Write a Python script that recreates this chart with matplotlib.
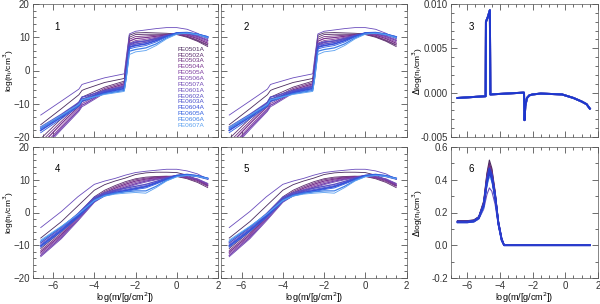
import numpy as np
import matplotlib
matplotlib.use("Agg")
import matplotlib.pyplot as plt
from matplotlib.ticker import MultipleLocator, FormatStrFormatter

plt.rcParams['font.family'] = ['Liberation Sans', 'DejaVu Sans']
plt.rcParams['axes.unicode_minus'] = True

# --- series names and colours ---
names = ['FE0501A', 'FE0502A', 'FE0503A', 'FE0504A', 'FE0505A', 'FE0506A', 'FE0507A',
         'FE0601A', 'FE0602A', 'FE0603A', 'FE0604A', 'FE0605A', 'FE0606A', 'FE0607A']
colors = ['#4a2a5e', '#5c2d6e', '#6e2f80', '#7a3390', '#7d3a9e', '#7a42ac', '#7048b4',
          '#6a4cbc', '#5a50c4', '#4a50cc', '#3a50d8', '#2e5ee0', '#4080e8', '#5aa0f0']

# --- panels 1 & 2: log n_i vs log m (with jump) ---
x_top = [-6.6, -5.6, -4.75, -4.6, -4.45, -3.5, -2.55, -2.45, -2.3, -2.0, -1.5, -1.0, -0.5, 0.0, 0.5, 1.0, 1.5]
top_s0 = [-16.3, -11.5, -7.3, -6.0, -5.6, -3.6, -2.4, 3.0, 10.6, 11.3, 11.4, 11.3, 11.2, 11.0, 10.2, 9.0, 7.6]
top_s1 = [-20.5, -14.5, -9.5, -8.0, -7.6, -5.0, -3.2, 2.0, 10.0, 10.8, 10.9, 10.9, 10.9, 10.8, 10.0, 8.8, 7.2]
top_s2 = [-21.5, -15.3, -10.2, -8.7, -8.3, -5.4, -3.6, 1.5, 9.4, 10.2, 10.4, 10.6, 10.8, 10.9, 10.3, 9.2, 7.8]
top_s3 = [-22.5, -16.0, -10.8, -9.3, -8.9, -5.8, -4.0, 1.0, 8.8, 9.6, 9.9, 10.3, 10.7, 11.0, 10.6, 9.6, 8.2]
top_s4 = [-23.5, -16.8, -11.4, -9.9, -9.5, -6.2, -4.3, 0.5, 8.2, 9.0, 9.4, 10.0, 10.6, 11.1, 10.8, 9.9, 8.6]
top_s5 = [-24.0, -17.3, -11.9, -10.4, -10.0, -6.5, -4.6, 0.0, 7.6, 8.4, 8.9, 9.7, 10.5, 11.2, 11.0, 10.2, 9.0]
top_s6 = [-24.5, -17.8, -12.3, -10.9, -10.4, -6.8, -4.9, -0.5, 7.0, 7.9, 8.5, 9.4, 10.4, 11.2, 11.1, 10.4, 9.3]
top_s7 = [-13.4, -9.2, -5.6, -4.2, -3.9, -2.2, -1.0, 4.0, 11.0, 11.8, 12.2, 12.6, 12.9, 12.9, 12.4, 11.2, 9.6]
top_s8 = [-17.0, -13.2, -9.6, -8.0, -7.8, -6.0, -4.8, 0.0, 8.0, 8.6, 8.9, 9.6, 10.5, 11.2, 11.2, 10.7, 9.8]
top_s9 = [-17.5, -13.6, -10.0, -8.5, -8.3, -6.3, -5.1, -0.5, 7.5, 8.0, 8.4, 9.3, 10.4, 11.2, 11.3, 10.8, 10.0]
top_s10 = [-18.0, -14.0, -10.4, -8.9, -8.7, -6.6, -5.4, -1.0, 7.0, 7.5, 8.0, 9.0, 10.3, 11.3, 11.4, 10.9, 10.1]
top_s11 = [-18.7, -14.5, -10.8, -9.3, -9.1, -6.9, -5.7, -1.5, 6.5, 7.0, 7.5, 8.6, 10.1, 11.3, 11.4, 11.0, 10.2]
top_s12 = [-17.5, -13.7, -10.3, -8.8, -8.6, -7.0, -6.0, -2.0, 5.8, 6.3, 6.8, 8.0, 9.8, 11.1, 11.3, 10.9, 10.0]
top_s13 = [-17.0, -13.4, -10.2, -8.8, -8.6, -7.2, -6.3, -2.5, 4.8, 5.6, 6.0, 7.5, 9.5, 10.9, 11.2, 10.8, 9.8]
top_series = [top_s0, top_s1, top_s2, top_s3, top_s4, top_s5, top_s6,
              top_s7, top_s8, top_s9, top_s10, top_s11, top_s12, top_s13]

# --- panel 3: difference ---
x_d3 = [-6.6, -4.88, -4.86, -4.75, -4.62, -4.59, -2.6, -2.53, -2.5, -2.45, -2.35, -2.2, -2.0, -1.5, -0.2, 0.5, 1.0, 1.3, 1.5]
y_d3 = [-0.0006, -0.0004, 0.0080, 0.0085, 0.0093, -0.0002, 0.0, 0.0, -0.0031, -0.0015, -0.0006, -0.0003, -0.0002, -0.0001, -0.0002, -0.0006, -0.0010, -0.0013, -0.0018]

# --- panels 4 & 5: log n_i vs log m (smooth) ---
x_bot = [-6.6, -5.6, -4.8, -4.0, -3.5, -3.0, -2.5, -2.0, -1.5, -1.0, -0.5, 0.0, 0.5, 1.0, 1.5]
bot_s0 = [-7.8, -2.8, 2.0, 6.8, 8.5, 9.6, 10.5, 11.6, 12.1, 12.3, 12.3, 12.2, 11.4, 10.0, 8.2]
bot_s1 = [-11.0, -5.8, -0.5, 4.8, 6.8, 8.2, 9.4, 10.3, 10.8, 11.0, 11.1, 11.0, 10.3, 9.2, 7.6]
bot_s2 = [-11.6, -6.3, -1.0, 4.4, 6.4, 7.8, 9.0, 10.0, 10.5, 10.8, 11.0, 11.1, 10.5, 9.5, 8.0]
bot_s3 = [-12.1, -6.8, -1.4, 4.0, 6.0, 7.4, 8.6, 9.6, 10.2, 10.6, 10.9, 11.1, 10.7, 9.8, 8.3]
bot_s4 = [-12.6, -7.2, -1.8, 3.7, 5.7, 7.0, 8.2, 9.2, 9.9, 10.4, 10.8, 11.2, 10.8, 10.0, 8.5]
bot_s5 = [-13.1, -7.6, -2.2, 3.4, 5.4, 6.7, 7.8, 8.8, 9.6, 10.2, 10.7, 11.2, 10.9, 10.1, 8.7]
bot_s6 = [-13.5, -8.0, -2.6, 3.1, 5.1, 6.4, 7.5, 8.5, 9.3, 10.0, 10.6, 11.2, 11.0, 10.3, 8.9]
bot_s7 = [-4.6, 0.3, 4.8, 8.6, 9.6, 10.4, 11.4, 12.2, 12.6, 12.9, 13.2, 13.2, 12.7, 11.8, 10.2]
bot_s8 = [-9.3, -4.6, -0.4, 4.6, 6.0, 6.8, 7.4, 8.0, 8.6, 9.5, 10.5, 11.3, 11.4, 11.0, 10.2]
bot_s9 = [-9.8, -5.0, -0.8, 4.2, 5.6, 6.4, 7.0, 7.6, 8.2, 9.2, 10.3, 11.3, 11.5, 11.1, 10.3]
bot_s10 = [-10.2, -5.4, -1.2, 3.8, 5.3, 6.1, 6.7, 7.3, 7.9, 9.0, 10.2, 11.3, 11.6, 11.2, 10.4]
bot_s11 = [-10.6, -5.8, -1.6, 3.4, 5.0, 5.8, 6.4, 7.0, 7.5, 8.7, 10.0, 11.3, 11.6, 11.3, 10.5]
bot_s12 = [-8.8, -4.4, -0.6, 3.8, 5.2, 5.9, 6.3, 6.6, 6.6, 8.0, 9.8, 11.0, 11.4, 11.1, 10.4]
bot_s13 = [-8.4, -4.2, -0.6, 3.6, 5.0, 5.6, 5.9, 6.1, 5.9, 7.6, 9.6, 10.9, 11.3, 11.0, 10.3]
bot_series = [bot_s0, bot_s1, bot_s2, bot_s3, bot_s4, bot_s5, bot_s6,
              bot_s7, bot_s8, bot_s9, bot_s10, bot_s11, bot_s12, bot_s13]

# --- panel 6: difference ---
x_d6 = [-6.6, -6.0, -5.6, -5.3, -5.0, -4.8, -4.65, -4.5, -4.3, -4.1, -3.9, -3.75, -2.4, 1.5]
d6_s0 = [0.150, 0.150, 0.155, 0.175, 0.27, 0.44, 0.52, 0.47, 0.33, 0.15, 0.04, 0.0, 0.0, 0.0]
d6_s1 = [0.148, 0.148, 0.153, 0.173, 0.26, 0.43, 0.50, 0.46, 0.32, 0.15, 0.04, 0.0, 0.0, 0.0]
d6_s2 = [0.146, 0.146, 0.151, 0.171, 0.26, 0.42, 0.49, 0.45, 0.32, 0.14, 0.04, 0.0, 0.0, 0.0]
d6_s3 = [0.145, 0.145, 0.150, 0.170, 0.25, 0.41, 0.48, 0.44, 0.31, 0.14, 0.04, 0.0, 0.0, 0.0]
d6_s4 = [0.143, 0.143, 0.148, 0.168, 0.25, 0.40, 0.47, 0.43, 0.31, 0.14, 0.04, 0.0, 0.0, 0.0]
d6_s5 = [0.142, 0.142, 0.147, 0.167, 0.24, 0.39, 0.46, 0.42, 0.30, 0.14, 0.04, 0.0, 0.0, 0.0]
d6_s6 = [0.140, 0.140, 0.145, 0.165, 0.24, 0.38, 0.45, 0.41, 0.30, 0.13, 0.03, 0.0, 0.0, 0.0]
d6_s7 = [0.138, 0.138, 0.142, 0.160, 0.22, 0.31, 0.35, 0.33, 0.25, 0.12, 0.03, 0.0, 0.0, 0.0]
d6_s8 = [0.145, 0.145, 0.150, 0.170, 0.25, 0.40, 0.47, 0.43, 0.31, 0.14, 0.04, 0.0, 0.0, 0.0]
d6_s9 = [0.143, 0.143, 0.148, 0.168, 0.25, 0.39, 0.46, 0.42, 0.30, 0.14, 0.04, 0.0, 0.0, 0.0]
d6_s10 = [0.142, 0.142, 0.147, 0.167, 0.24, 0.39, 0.45, 0.41, 0.30, 0.13, 0.03, 0.0, 0.0, 0.0]
d6_s11 = [0.140, 0.140, 0.145, 0.165, 0.24, 0.38, 0.44, 0.41, 0.29, 0.13, 0.03, 0.0, 0.0, 0.0]
d6_s12 = [0.139, 0.139, 0.144, 0.163, 0.23, 0.37, 0.43, 0.40, 0.29, 0.13, 0.03, 0.0, 0.0, 0.0]
d6_s13 = [0.138, 0.138, 0.143, 0.162, 0.23, 0.36, 0.42, 0.39, 0.28, 0.13, 0.03, 0.0, 0.0, 0.0]
d6_series = [d6_s0, d6_s1, d6_s2, d6_s3, d6_s4, d6_s5, d6_s6,
             d6_s7, d6_s8, d6_s9, d6_s10, d6_s11, d6_s12, d6_s13]

ylab = r'log(n$_{\rm i}$/cm$^{3}$)'
dylab = r'$\Delta$log(n$_{\rm i}$/cm$^{3}$)'
xlab = r'log(m/[g/cm$^{2}$])'

fig = plt.figure(figsize=(6.0, 3.04), dpi=100)
W, H = 600.0, 304.0

def add_ax(x0, x1, y0, y1):
    return fig.add_axes([x0 / W, 1 - y1 / H, (x1 - x0) / W, (y1 - y0) / H])

cols = [(32.5, 218), (221, 406.5), (451, 598)]
rows = [(4, 137), (147, 278)]

def style(ax, ymaj, ymin, xlabels, ylabels):
    ax.set_xlim(-7, 2)
    ax.xaxis.set_major_locator(MultipleLocator(2))
    ax.xaxis.set_minor_locator(MultipleLocator(0.5))
    ax.yaxis.set_major_locator(MultipleLocator(ymaj))
    ax.yaxis.set_minor_locator(MultipleLocator(ymin))
    ax.tick_params(which='both', direction='in', top=True, right=True,
                   labelsize=7, width=0.5, colors='#333333', pad=2)
    ax.tick_params(which='major', length=4)
    ax.tick_params(which='minor', length=2)
    if not xlabels:
        ax.tick_params(labelbottom=False)
    if not ylabels:
        ax.tick_params(labelleft=False)
    for sp in ax.spines.values():
        sp.set_linewidth(0.5)
        sp.set_color('#555555')

lw = [0.6, 0.6, 0.6, 0.9, 0.6, 0.9, 0.6, 0.6, 1.0, 0.6, 1.2, 0.6, 0.9, 0.6]

ax1 = add_ax(cols[0][0], cols[0][1], *rows[0])
ax2 = add_ax(cols[1][0], cols[1][1], *rows[0])
ax3 = add_ax(cols[2][0], cols[2][1], *rows[0])
ax4 = add_ax(cols[0][0], cols[0][1], *rows[1])
ax5 = add_ax(cols[1][0], cols[1][1], *rows[1])
ax6 = add_ax(cols[2][0], cols[2][1], *rows[1])

for ax in (ax1, ax2):
    for ys, c, w in zip(top_series, colors, lw):
        ax.plot(x_top, ys, color=c, lw=w)
    ax.set_ylim(-20, 20)

for ax in (ax4, ax5):
    for ys, c, w in zip(bot_series, colors, lw):
        ax.plot(x_bot, ys, color=c, lw=w)
    ax.set_ylim(-20, 20)

for c in colors[::4] + ['#1f35cc']:
    ax3.plot(x_d3, y_d3, color=c, lw=1.4)
ax3.set_ylim(-0.005, 0.010)

# purples first, blues on top
for ys, c in zip(d6_series, colors):
    ax6.plot(x_d6, ys, color=c, lw=0.8)
for ys in d6_series[8:12]:
    ax6.plot(x_d6, ys, color='#2a3ccc', lw=1.2)
ax6.set_ylim(-0.2, 0.6)

style(ax1, 10, 2, False, True)
style(ax2, 10, 2, False, False)
style(ax3, 0.005, 0.001, False, True)
style(ax4, 10, 2, True, True)
style(ax5, 10, 2, True, False)
style(ax6, 0.2, 0.1, True, True)
ax3.yaxis.set_major_formatter(FormatStrFormatter('%.3f'))
ax6.yaxis.set_major_formatter(FormatStrFormatter('%.1f'))

for ax in (ax1, ax4):
    ax.set_ylabel(ylab, fontsize=6, va='center')
    ax.yaxis.set_label_coords(-0.128, 0.5)
for ax in (ax3, ax6):
    ax.set_ylabel(dylab, fontsize=6, va='center')
    ax.yaxis.set_label_coords(-0.225, 0.5)
for ax in (ax4, ax5, ax6):
    ax.set_xlabel(xlab, fontsize=6.5, labelpad=0)

for ax, t in zip((ax1, ax2, ax3, ax4, ax5, ax6), '123456'):
    ax.text(0.12, 0.83, t, transform=ax.transAxes, fontsize=7, ha='left', va='center')

# series labels in panel 1
for i, (n, c) in enumerate(zip(names, colors)):
    ax1.text(0.78, 0.66 - i * 0.044, n, transform=ax1.transAxes, color=c,
             fontsize=4.6, ha='left', va='center')

fig.savefig('out.png', dpi=100)
